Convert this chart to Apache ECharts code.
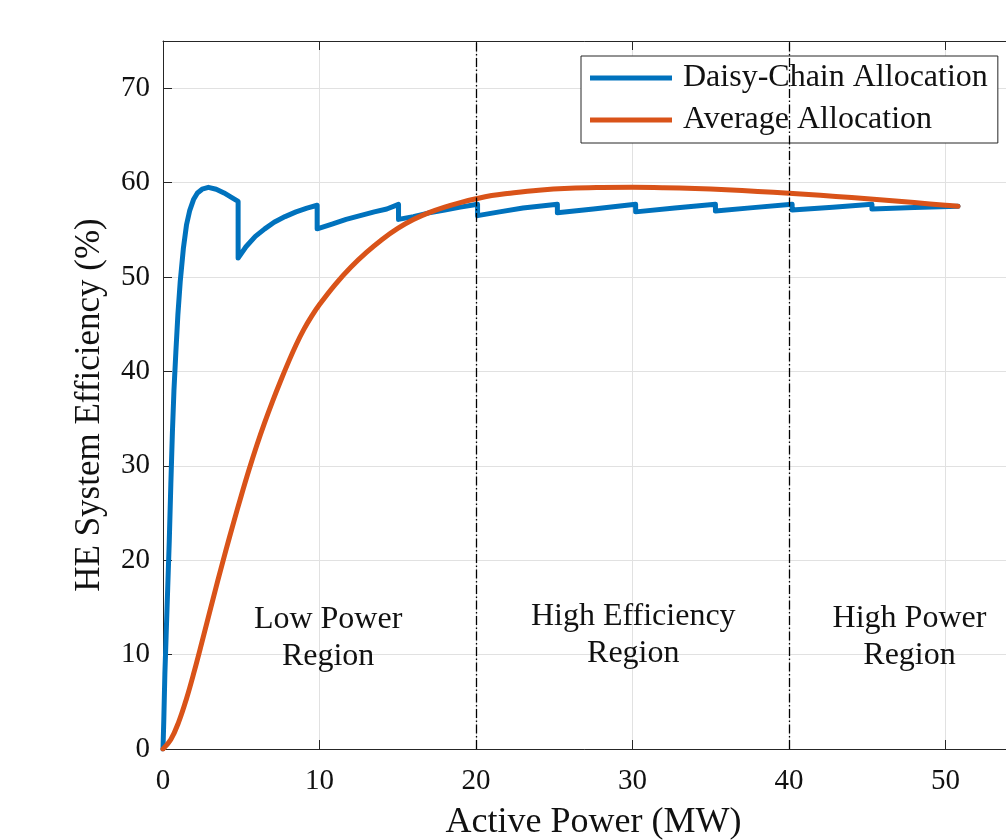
<!DOCTYPE html>
<html>
<head>
<meta charset="utf-8">
<script src="https://cdn.jsdelivr.net/npm/echarts@6/dist/echarts.min.js"></script>
<style>
html,body{margin:0;padding:0;background:#fff;overflow:hidden;}
#chart{width:1006px;height:840px;}
</style>
</head>
<body>
<div id="chart"></div>
<script>
// ---- Data ----
var xTicks = [0, 10, 20, 30, 40, 50];
var yTicks = [0, 10, 20, 30, 40, 50, 60, 70];

var daisyPower = [0, 0.05, 0.12, 0.2, 0.3, 0.4, 0.5, 0.6, 0.7, 0.82, 0.95, 1.1, 1.3, 1.5, 1.7, 1.95, 2.2, 2.5, 2.9, 3.4, 3.9, 4.4, 4.8,
  4.8, 5.3, 5.9, 6.5, 7.1, 7.8, 8.5, 9.2, 9.85,
  9.85, 10.8, 11.7, 12.6, 13.5, 14.3, 15.05,
  15.05, 16, 17, 18, 19, 20.1,
  20.1, 21.5, 23, 25.2,
  25.2, 27.5, 30.2,
  30.2, 32.7, 35.3,
  35.3, 37.7, 40.2,
  40.2, 42.8, 45.3,
  45.3, 48, 50.8];
var daisyEff = [0, 3, 8, 12, 17, 22, 28, 33.5, 38, 42, 46, 49.5, 53, 55.5, 57.0, 58.2, 58.9, 59.3, 59.5, 59.3, 58.9, 58.4, 58.0,
  52.0, 53.2, 54.3, 55.1, 55.8, 56.4, 56.9, 57.3, 57.6,
  55.1, 55.6, 56.1, 56.5, 56.9, 57.2, 57.7,
  56.1, 56.4, 56.8, 57.1, 57.4, 57.7,
  56.5, 56.9, 57.3, 57.7,
  56.8, 57.2, 57.7,
  56.9, 57.3, 57.7,
  57.0, 57.35, 57.7,
  57.1, 57.4, 57.7,
  57.2, 57.35, 57.5];

var avgPower = [0, 0.5, 1, 1.5, 2, 2.5, 3, 3.5, 4, 4.5, 5, 5.5, 6, 6.5, 7, 7.5, 8, 8.5, 9, 9.5, 10,
  11, 12, 13, 14, 15, 16, 17, 18, 19, 20, 21, 22, 24, 26, 28, 30, 32, 34, 36, 38, 40, 42, 44, 46, 48, 50, 50.8];
var avgEff = [0, 1.0, 2.85, 5.33, 8.25, 11.4, 14.63, 17.83, 20.93, 23.93, 26.83, 29.6, 32.2, 34.6, 36.83, 38.93, 40.93, 42.8, 44.45, 45.85, 47.08,
  49.2, 51.03, 52.6, 53.98, 55.15, 56.09, 56.82, 57.4, 57.88, 58.29, 58.63, 58.85, 59.2, 59.4, 59.48, 59.5, 59.46, 59.37, 59.24, 59.07, 58.87, 58.65, 58.41, 58.15, 57.88, 57.6, 57.5];

var regionBounds = [20, 40];
var regionLabels = ['Low Power\nRegion', 'High Efficiency\nRegion', 'High Power\nRegion'];
var regionLabelX = [10.55, 30.05, 47.7];
var regionLabelY = [11.7, 12.1, 11.9];

var seriesNames = ['Daisy-Chain Allocation', 'Average Allocation'];

// ---- Build chart ----
function pairs(xs, ys) { return xs.map(function (x, i) { return [x, ys[i]]; }); }

var FONT_NAME = "'Liberation Serif', 'DejaVu Serif', serif";
var TXT = '#111111';
var AX = '#262626';

var chart = echarts.init(document.getElementById('chart'), null, { renderer: 'canvas' });

var option = {
  animation: false,
  backgroundColor: '#fff',
  textStyle: { fontFamily: FONT_NAME, color: TXT },
  grid: { left: 163, top: 41, right: -96, bottom: 91, containLabel: false, outerBoundsMode: 'none' },
  legend: {
    data: seriesNames,
    orient: 'vertical',
    left: 581,
    top: 56,
    padding: [6, 10, 7, 9],
    itemGap: 10,
    icon: 'rect',
    itemWidth: 82,
    itemHeight: 5,
    backgroundColor: '#fff',
    borderColor: AX,
    borderWidth: 1,
    borderRadius: 0,
    textStyle: { fontFamily: FONT_NAME, fontSize: 32, color: TXT, padding: [0, 0, 0, 6], lineHeight: 31 }
  },
  xAxis: [{
    type: 'value', position: 'bottom', min: 0, max: 60, interval: 10,
    axisLine: { show: true, onZero: false, lineStyle: { color: AX, width: 1 } },
    axisTick: { show: true, inside: true, length: 9, lineStyle: { color: AX, width: 1 } },
    axisLabel: {
      fontFamily: FONT_NAME, fontSize: 29, color: TXT, margin: 18,
      formatter: function (v) { return xTicks.indexOf(v) >= 0 ? String(v) : ''; }
    },
    splitLine: { show: true, lineStyle: { color: '#e1e1e1', width: 1 } },
    name: 'Active Power (MW)', nameLocation: 'middle', nameGap: 56,
    nameTextStyle: { fontFamily: FONT_NAME, fontSize: 36, color: TXT, padding: [0, 78, 0, 0] }
  }, {
    type: 'value', position: 'top', min: 0, max: 60, interval: 10,
    axisLine: { show: true, onZero: false, lineStyle: { color: AX, width: 1 } },
    axisTick: { show: true, inside: true, length: 9, lineStyle: { color: AX, width: 1 } },
    axisLabel: { show: false },
    splitLine: { show: false }
  }],
  yAxis: [{
    type: 'value', position: 'left', min: 0, max: 75, interval: 10,
    axisLine: { show: true, onZero: false, lineStyle: { color: AX, width: 1 } },
    axisTick: { show: true, inside: true, length: 9, lineStyle: { color: AX, width: 1 } },
    axisLabel: {
      fontFamily: FONT_NAME, fontSize: 29, color: TXT, margin: 13, showMaxLabel: false,
      formatter: function (v) { return yTicks.indexOf(v) >= 0 ? String(v) : ''; }
    },
    splitLine: { show: true, lineStyle: { color: '#e1e1e1', width: 1 } },
    name: 'HE System Efficiency (%)', nameLocation: 'middle', nameGap: 56,
    nameTextStyle: { fontFamily: FONT_NAME, fontSize: 35, color: TXT, padding: [0, 20, 0, 0] }
  }],
  series: [{
    name: seriesNames[0], type: 'line', xAxisIndex: 0, yAxisIndex: 0,
    data: pairs(daisyPower, daisyEff),
    showSymbol: false, symbol: 'none', smooth: false,
    color: '#0072BD',
    lineStyle: { color: '#0072BD', width: 5, join: 'round', cap: 'round' },
    z: 3
  }, {
    name: seriesNames[1], type: 'line', xAxisIndex: 0, yAxisIndex: 0,
    data: pairs(avgPower, avgEff),
    showSymbol: false, symbol: 'none', smooth: 0.4,
    color: '#D95319',
    lineStyle: { color: '#D95319', width: 5, join: 'round', cap: 'round' },
    z: 4,
    markLine: {
      silent: true, symbol: ['none', 'none'], animation: false,
      label: { show: false },
      lineStyle: { color: '#000', width: 1.3, type: [9, 2.5, 1.5, 2.5] },
      data: regionBounds.map(function (b) { return { xAxis: b }; })
    }
  }, {
    name: 'regions', type: 'custom', xAxisIndex: 0, yAxisIndex: 0,
    silent: true, z: 5,
    data: regionLabels.map(function (t, i) { return [regionLabelX[i], regionLabelY[i]]; }),
    renderItem: function (params, api) {
      var pt = api.coord([api.value(0), api.value(1)]);
      return {
        type: 'text',
        x: pt[0], y: pt[1],
        style: {
          text: regionLabels[params.dataIndex],
          fontFamily: FONT_NAME, fontSize: 32, lineHeight: 37,
          fill: TXT, align: 'center', verticalAlign: 'middle'
        }
      };
    }
  }]
};
chart.setOption(option);
</script>
</body>
</html>
